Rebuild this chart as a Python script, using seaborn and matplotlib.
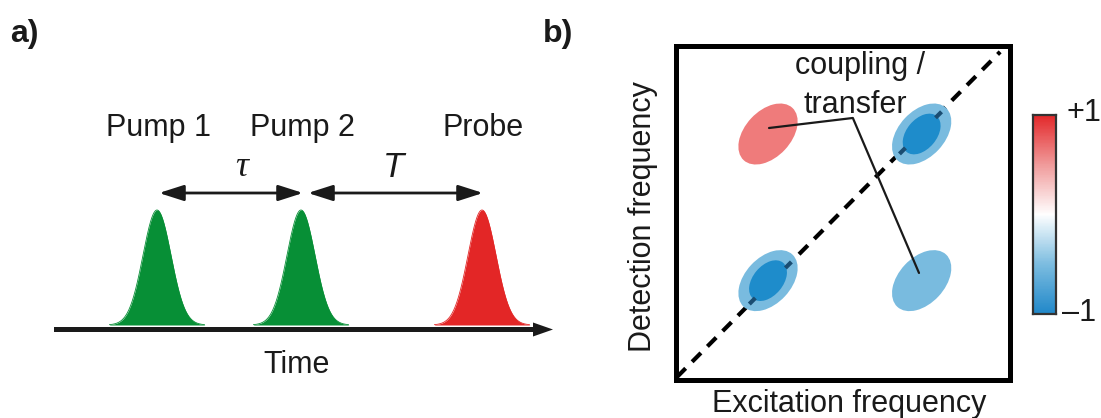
import numpy as np
import pandas as pd
import matplotlib
matplotlib.use("Agg")
import matplotlib.pyplot as plt
from matplotlib.patches import Ellipse
from matplotlib.colors import LinearSegmentedColormap
import seaborn as sns

sns.set_theme(style="white")
plt.rcParams["font.family"] = ["Liberation Sans", "DejaVu Sans"]

# ---------------- data ----------------
# panel a: pulse sequence (time units ~ pixels of the schematic)
pulse_names = ["Pump 1", "Pump 2", "Probe"]
pulse_times = [157, 301, 482]
pulse_colors = ["#078f36", "#078f36", "#e32626"]
pulse_sigma = 14
pulse_amp = 115
delay_labels = ["\u03c4", "T"]
delay_starts = [159, 308]
delay_ends = [303, 483]

# panel b: 2D spectrum peaks (excitation, detection, sign)
peak_exc = [0.277, 0.737, 0.277, 0.737]
peak_det = [0.735, 0.735, 0.296, 0.296]
peak_sign = [1, -1, -1, -1]
peak_diag = [False, True, True, False]
leader_x = [0.280, 0.531, 0.729]
leader_y = [0.753, 0.783, 0.319]
cbar_ticks = ["+1", "\u20131"]

W, H = 1101, 418
fig = plt.figure(figsize=(W / 100, H / 100), dpi=100)
FS = 22
ink = "#1a1a1a"

# ---------------- panel a ----------------
axa = fig.add_axes([0, 0, 620 / W, 1])
axa.set_xlim(0, 620)
axa.set_ylim(H, 0)
axa.axis("off")

base = 325
for name, t0, col in zip(pulse_names, pulse_times, pulse_colors):
    t = np.linspace(t0 - 3.4 * pulse_sigma, t0 + 3.4 * pulse_sigma, 300)
    y = base - pulse_amp * np.exp(-((t - t0) ** 2) / (2 * pulse_sigma ** 2))
    axa.fill_between(t, y, base, color=col, lw=0, zorder=2)
    sns.lineplot(x=t, y=y, ax=axa, color=col, lw=0.6, zorder=2, sort=False)
    axa.text(t0 + 1, 136, name, ha="center", va="baseline", fontsize=FS,
             color=ink)

# time axis
axa.arrow(54, 329.5, 499, 0, width=5, head_width=14, head_length=20,
          length_includes_head=True, color=ink, lw=0, zorder=3)
axa.text(297, 373, "Time", ha="center", va="baseline", fontsize=FS, color=ink)

# delay arrows
for lab, s, e in zip(delay_labels, delay_starts, delay_ends):
    axa.annotate("", xy=(s, 193), xytext=(e, 193),
                 arrowprops=dict(arrowstyle="<|-|>,head_length=0.75,head_width=0.24",
                                 lw=2, color=ink, shrinkA=0, shrinkB=0,
                                 mutation_scale=20))
axa.text(242, 176, delay_labels[0], ha="center", va="baseline",
         fontsize=26, family="Liberation Serif", style="italic", color=ink)
axa.text(393, 177, delay_labels[1], ha="center", va="baseline",
         fontsize=25, style="italic", color=ink)

fig.text(10 / W, 1 - 42 / H, "a)", fontsize=23, fontweight="bold",
         va="baseline", ha="left", color=ink)
fig.text(543 / W, 1 - 42 / H, "b)", fontsize=23, fontweight="bold",
         va="baseline", ha="left", color=ink)

# ---------------- panel b ----------------
bx0, by0, bs = 675.5, 379.5, 334
axb = fig.add_axes([bx0 / W, (H - by0) / H, bs / W, bs / H])
axb.set_xlim(0, 1)
axb.set_ylim(0, 1)
axb.set_xticks([])
axb.set_yticks([])
for sp in axb.spines.values():
    sp.set_visible(True)
    sp.set_linewidth(3.6)
    sp.set_color("black")
axb.set_facecolor("white")

# diagonal
sns.lineplot(x=[0.004, 0.972], y=[0.007, 0.981], ax=axb, color="black",
             lw=3, dashes=False, zorder=1)
axb.lines[-1].set_dashes([3.0, 2.2])
axb.lines[-1].set_dash_capstyle("butt")

outer_w, outer_h = 0.214, 0.138
inner_w, inner_h = 0.14, 0.09
red_c, light_c, dark_c = "#ef7b7b", "#79bbdf", "#1e8ccb"
for x, y, s, d in zip(peak_exc, peak_det, peak_sign, peak_diag):
    col = red_c if s > 0 else light_c
    axb.add_patch(Ellipse((x, y), outer_w, outer_h, angle=47, color=col,
                          lw=0, zorder=2))
    if d:
        axb.add_patch(Ellipse((x, y), inner_w, inner_h, angle=50,
                              color=dark_c, lw=0, zorder=3))
        # dashes of the diagonal visible at the inner-peak tips
        p = (x + y - 0.005) / 2
        for k in (-1, 1):
            cx = p + k * 0.054
            cy = cx + 0.005
            axb.plot([cx - 0.009, cx + 0.009], [cy - 0.009, cy + 0.009],
                     color="#1a4d72", lw=3, solid_capstyle="butt", zorder=4)

sns.lineplot(x=leader_x, y=leader_y, ax=axb, color=ink, lw=1.6, sort=False,
             zorder=5)
axb.text(0.552, 0.915, "coupling /", ha="center", va="baseline",
         fontsize=FS, color=ink, zorder=6)
axb.text(0.537, 0.798, "transfer", ha="center", va="baseline",
         fontsize=FS, color=ink, zorder=6)

fig.text(849 / W, 1 - 412 / H, "Excitation frequency", ha="center",
         va="baseline", fontsize=FS, color=ink)
fig.text(643 / W, 1 - 217 / H, "Detection frequency", ha="center",
         va="center", rotation=90, fontsize=FS, color=ink)

# ---------------- colour bar ----------------
cmap = LinearSegmentedColormap.from_list(
    "rb", ["#2188c9", "#7dbde0", "#ffffff", "#f09c9c", "#e3292b"])
axc = fig.add_axes([1033 / W, (H - 314) / H, 23 / W, 199 / H])
grad = pd.DataFrame(np.linspace(1, -1, 200).reshape(-1, 1))
sns.heatmap(grad, ax=axc, cmap=cmap, vmin=-1, vmax=1, cbar=False,
            xticklabels=False, yticklabels=False)
for sp in axc.spines.values():
    sp.set_visible(True)
    sp.set_linewidth(1.6)
    sp.set_color("#333333")
fig.text(1066 / W, 1 - 113 / H, cbar_ticks[0], ha="left", va="center",
         fontsize=FS, color=ink)
fig.text(1062 / W, 1 - 313 / H, cbar_ticks[1], ha="left", va="center",
         fontsize=FS, color=ink)

fig.savefig("out.png", dpi=100, facecolor="white")
